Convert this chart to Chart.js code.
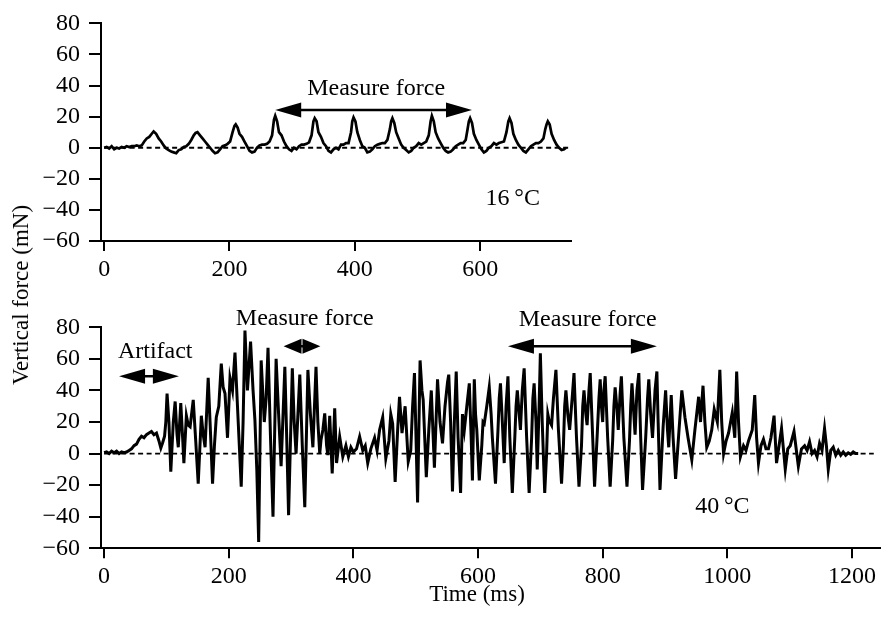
<!DOCTYPE html>
<html>
<head>
<meta charset="utf-8">
<script src="https://cdn.jsdelivr.net/npm/chart.js@4/dist/chart.umd.min.js"></script>
<style>
  html, body { margin: 0; padding: 0; background: #fff; }
  body { width: 890px; height: 631px; overflow: hidden; position: relative; font-family: "Liberation Serif", serif; color: #000; }
  #c1 { position: absolute; left: 0; top: 0; }
  #c2 { position: absolute; left: 0; top: 290px; }
  .ytitle { position: absolute; left: 21px; top: 295px; transform: translate(-50%, -50%) rotate(-90deg); font-size: 23px; white-space: nowrap; }
  .xtitle { position: absolute; left: 477px; top: 594px; transform: translate(-50%, -50%); font-size: 23px; white-space: nowrap; }
</style>
</head>
<body>
<canvas id="c1" width="890" height="290"></canvas>
<canvas id="c2" width="890" height="341"></canvas>
<div class="ytitle">Vertical force (mN)</div>
<div class="xtitle">Time (ms)</div>
<script>
// ---------- Data ----------
// Upper trace, 16 °C
const time16 = [0,4,8,12,16,20,24,28,32,36,40,44,48,52,56,60,
 64,68,72,76,79,83,87,91,95,99,103,107,111,115,119,123,127,131,
 135,139,143,146,149,153,157,161,165,169,173,177,181,185,189,193,197,201,
 205,208,210,213,216,220,224,228,232,236,240,244,248,252,256,260,264,268,
 271,273,276,279,283,287,291,295,299,303,307,311,315,319,323,327,331,
 334,336,339,342,346,350,354,358,362,366,370,374,378,382,386,390,394,
 396,398,401,404,408,412,416,420,424,428,432,436,440,444,448,452,456,
 458,460,463,466,470,474,478,482,486,490,494,498,502,506,510,514,518,
 521,523,526,529,533,537,541,545,549,553,557,561,565,569,573,577,580,
 582,584,587,590,594,598,602,606,610,614,618,622,626,630,634,638,642,
 645,647,650,653,657,661,665,669,673,677,681,685,689,693,697,701,704,
 706,708,711,714,718,722,726,730,734,737];
const force16 = [0,0.5,-0.5,1,-1,0,-0.5,0.5,0,1,0.5,1,1,1.5,1,1.5,
 4,6,7,9,10.5,9,6,4,1.5,-0.5,-1.5,-2.5,-3,-3.5,-1.5,-1,0.5,1,
 2.5,5,8,9.5,10,8,6,4,2,0,-2,-3.5,-3,-1,1,1.5,2.5,4,
 10,14,15,13,9,7,4,1,-2,-3,-2.5,0,1.5,2,2,2.5,4,8,
 18,20.5,17,10,8,4,1,-1,-2,0,-1,1,2,2,2.5,3.5,8,
 17,19,17,10,7,3,1,-2,-3,-1,0,-1,2,2,3,3,10,
 17,19.5,17,10,5,1,0,-3,-2.5,-1,1,2,2.5,3,3,5,12,
 17,19,16,10,6,2,0,-1.5,-3,-2,0,1,3,2,3,4,8,
 17,20.5,17,10,6,3,0,-2,-3,-2.5,-1,1,2,3,3,5,12,
 17,19,16,9,5,2,-1,-3,-2,0,1,3,2,3,3.5,4,10,
 17,19,16,9,5,2,0,-2,-3,-1,1,2,3,3,4,6,12,
 15,17,15,9,5,2,0,-1.5,-1,0];

// Lower trace, 40 °C
const time40 = [
 0,4,8,12,16,20,24,28,32,36,40,44,48,52,56,60,64,68,72,76,80,84,88,91,94,97,99,101,
 104,107,111,114,117,119,123,126,128,132,135,138,143,147,151,156,159,162,167,170,
 174,177,180,184,188,191,194,198,202,206,210,214,220,223,226,230,235,239,242,245,
 248,252,257,260,263,267,271,276,280,284,290,293,296,302,305,308,311,314,318,322,
 327,331,335,340,343,346,
 348,351,354,357,359,362,366,370,373,378,383,388,392,396,400,405,410,415,419,423,
 428,434,438,442,447,452,457,460,463,467,471,474,478,483,488,492,495,498,503,507,
 510,512,517,521,525,530,535,
 539,543,547,551,553,556,559,562,565,568,
 572,575,578,582,586,589,591,594,596,598,
 602,606,608,610,614,618,621,623,628,632,
 634,636,639,642,645,648,651,655,659,661,
 663,666,668,671,674,678,682,686,688,690,
 693,695,698,700,703,707,710,712,714,718,
 721,725,729,734,737,739,741,744,747,751,
 754,758,762,766,768,770,773,775,778,780,
 784,787,791,794,796,798,800,802,804,808,
 812,816,818,820,823,825,828,830,834,839,
 843,845,847,850,852,855,858,861,864,869,
 872,874,877,880,884,887,889,892,897,901,
 904,906,910,913,917,922,927,930,932,937,
 943,
 948,954,957,961,964,967,971,975,979,984,988,991,994,998,1002,1008,1012,1015,1018,1021,
 1026,1030,1034,1040,1044,1047,1050,1054,1058,1062,1066,1070,1075,1079,1083,1087,1093,1097,1101,1107,
 1114,1119,1124,1128,1132,1136,1140,1144,1148,1152,1156,1159,1162,1166,1170,1174,1178,1182,1186,1190,
 1194,1198,1202,1206,1210];
const force40 = [
 0.5,1,0,1.5,0.5,1.5,0,1,0.5,1,2,3,5,6,9,11,10,12,13,14,12,13,8,3.5,7,11,20,38,
 20,-11.5,20,33,12,4,32,10,-6,24,18,17,34,8,-19,24,12,4,48,20,
 -19,5,23,30,57,42,38,10,48,40,64,30,-21,20,78,40,71,40,21,-10,
 -56,59,20,35,67,10,-40,60,25,-8,55,10,-39,54,20,0,25,50,5,-34,
 53,25,4,55,20,0,
 8.6,15,25.5,5,-1,24,-12.5,28.7,-6,10.7,-2,5,-2,4,1,3,10.7,2,5,-6,
 3,10,2,15,23,-3,8,25,19,-18,15,36,13,30,-5,2,30,51,-31,59,
 40,34,-15,15,40,-9,47,
 20,6.5,30,45,50,20,-24,20,52,10,
 -25,25,15,30,44.5,10,-17,47,25,15,
 -17,5,20,19,30,42,25,10,-19,15,
 35,44.5,20,-6,30,49,10,-25,10,30,
 40,25,15,40,54,10,-25,10,35,44.5,
 20,-10,30,63.5,20,-25,0,25,21,18,
 35,53,15,-19,5,30,40,25,15,35,
 51,10,-21,5,30,40,25,18,40,51,
 10,-21,10,35,47,30,20,40,49,10,
 -21,8,30,42,28,15,38,49,10,-21,
 8,30,44.5,25,12,40,51,10,-23,10,
 35,47,25,10,40,52,20,-23,17,40,
 15,4,37,10,-16,12,40,30,23,10,
 -4,
 15,36,20,43,20,4,8,15,28,20,53,20,0,8,13,26,10,52,20,-2,
 5,2,8,15,37,10,-6,5,9,3,3,10,24,-6,5,16,-10,3,5,14,
 -8,3,5,2,7.5,0,2,-2,6.5,2,16,5,-10,2,4,-1,2,-1,1,-1,
 0.5,-0.5,1,0,0];

// Axis ticks
const xTicks16 = [0, 200, 400, 600];
const xTicks40 = [0, 200, 400, 600, 800, 1000, 1200];
const yTicks = [-60, -40, -20, 0, 20, 40, 60, 80];

// Zero reference (dashed) lines: [start, end] in ms
const zero16 = [0, 745];
const zero40 = [0, 1235];

// Annotations (data coordinates)
const labels16 = [
  { text: 'Measure force', x: 434, y: 38 },
  { text: '16\u2009\u00B0C', x: 652, y: -33 }
];
const arrows16 = [ { from: 273, to: 587, y: 24.3 } ];
const labels40 = [
  { text: 'Artifact', x: 82, y: 64.3 },
  { text: 'Measure force', x: 322, y: 85.5 },
  { text: 'Measure force', x: 776, y: 84.5 },
  { text: '40\u2009\u00B0C', x: 992, y: -33.5 }
];
const arrows40 = [
  { from: 24, to: 120, y: 49 },
  { from: 288, to: 347, y: 68 },
  { from: 648, to: 887, y: 68 }
];

// ---------- Drawing ----------
const FONT = 'Liberation Serif';

function notesPlugin(labels, arrows) {
  return {
    id: 'notes',
    afterDatasetsDraw(chart) {
      const { ctx } = chart;
      const xs = chart.scales.x, ys = chart.scales.y;
      ctx.save();
      ctx.fillStyle = '#000';
      ctx.strokeStyle = '#000';
      ctx.font = '24px "' + FONT + '"';
      ctx.textAlign = 'center';
      ctx.textBaseline = 'middle';
      labels.forEach(l => ctx.fillText(l.text, xs.getPixelForValue(l.x), ys.getPixelForValue(l.y)));
      arrows.forEach(a => {
        const x1 = xs.getPixelForValue(a.from), x2 = xs.getPixelForValue(a.to), yy = ys.getPixelForValue(a.y);
        const len = x2 - x1, hl = Math.min(26, len / 2 - 0.5), hw = 7.5;
        ctx.lineWidth = 2.5;
        ctx.beginPath(); ctx.moveTo(x1 + hl - 1, yy); ctx.lineTo(x2 - hl + 1, yy); ctx.stroke();
        ctx.beginPath(); ctx.moveTo(x1, yy); ctx.lineTo(x1 + hl, yy - hw); ctx.lineTo(x1 + hl, yy + hw); ctx.closePath(); ctx.fill();
        ctx.beginPath(); ctx.moveTo(x2, yy); ctx.lineTo(x2 - hl, yy - hw); ctx.lineTo(x2 - hl, yy + hw); ctx.closePath(); ctx.fill();
      });
      ctx.restore();
    }
  };
}

function build(id, opt) {
  const trace = opt.t.map((t, i) => ({ x: t, y: opt.v[i] }));
  const zero = opt.zero.map(t => ({ x: t, y: 0 }));
  const axisGrid = (len) => ({ display: true, drawOnChartArea: false, drawTicks: true, tickLength: len, color: '#000', lineWidth: 2 });
  const tickFont = { family: FONT, size: 24 };
  return new Chart(document.getElementById(id), {
    type: 'line',
    data: {
      datasets: [
        { data: trace, borderColor: '#000', borderWidth: opt.lw, borderJoinStyle: 'miter', pointRadius: 0, tension: 0, fill: false },
        { data: zero, borderColor: '#000', borderWidth: 1.8, borderDash: [5, 3.5], pointRadius: 0, tension: 0, fill: false }
      ]
    },
    options: {
      responsive: false,
      animation: false,
      events: [],
      layout: { padding: { top: opt.padTop, right: opt.padRight, left: 0, bottom: 0 } },
      plugins: { legend: { display: false }, tooltip: { enabled: false } },
      scales: {
        x: {
          type: 'linear', min: opt.xmin, max: opt.xmax,
          afterBuildTicks: s => { s.ticks = opt.xticks.map(v => ({ value: v })); },
          afterFit: s => { s.height = opt.xh; },
          grid: axisGrid(10),
          border: { display: true, color: '#000', width: 2 },
          ticks: { color: '#000', font: tickFont, padding: 4, maxRotation: 0, autoSkip: false,
                   callback: v => String(v) }
        },
        y: {
          type: 'linear', min: -60, max: 80,
          afterBuildTicks: s => { s.ticks = yTicks.map(v => ({ value: v })); },
          afterFit: s => { s.width = 101; },
          grid: axisGrid(12),
          border: { display: true, color: '#000', width: 2 },
          ticks: { color: '#000', font: tickFont, padding: 9, autoSkip: false,
                   callback: v => v < 0 ? '\u2212' + Math.abs(v) : String(v) }
        }
      }
    },
    plugins: [notesPlugin(opt.labels, opt.arrows)]
  });
}

build('c1', { t: time16, v: force16, zero: zero16, xmin: -5, xmax: 745, xticks: xTicks16, lw: 2.7,
              padTop: 20.7, padRight: 319, xh: 49, labels: labels16, arrows: arrows16 });
build('c2', { t: time40, v: force40, zero: zero40, xmin: -5, xmax: 1245, xticks: xTicks40, lw: 3.0,
              padTop: 37.3, padRight: 10, xh: 82.7, labels: labels40, arrows: arrows40 });
</script>
</body>
</html>
